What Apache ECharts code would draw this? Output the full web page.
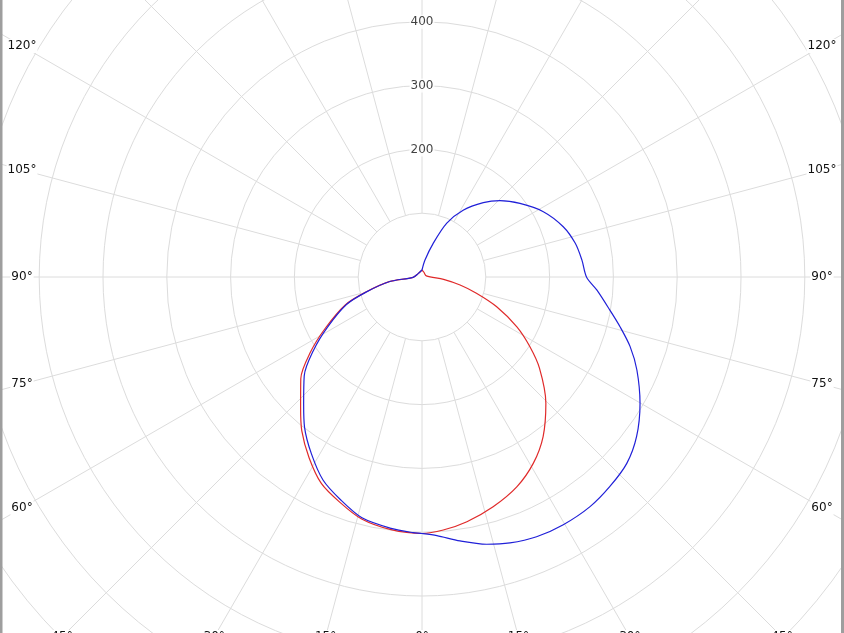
<!DOCTYPE html>
<html>
<head>
<meta charset="utf-8">
<script src="https://cdn.jsdelivr.net/npm/echarts/dist/echarts.min.js"></script>
<style>
html,body{margin:0;padding:0;background:#fff;}
#c{width:844px;height:633px;}
</style>
</head>
<body>
<div id="c"></div>
<script>
// ---- data (gamma in degrees from nadir, intensity values) ----
const blueRightGamma  = [0, 3.3, 8.2, 13.6, 18.3, 23.8, 29.7, 36.2, 41.9, 47.7, 53.4, 59.9, 66.6, 71.5, 75.9, 80.0, 85.7, 89.9, 96.1, 102.4, 109.6, 118.3, 126.9, 134.4, 140.5, 148.4, 155.3, 161.5, 170, 176, 180];
const blueRightValues = [402, 406, 418, 431, 439, 445, 447, 446, 441, 434, 419, 395, 367, 344, 320, 299, 275, 258, 252, 246, 235, 216, 192, 171, 151, 123, 93, 56, 27, 11, 11];
const blueLeftGamma   = [0, 2, 7, 14, 20, 26, 32, 38, 43, 50, 56, 62, 70, 75, 82, 88, 135, 180];
const blueLeftValues  = [402, 401, 397, 389, 372, 354, 327, 299, 272, 241, 205, 168, 126, 90, 51, 14, 8, 11];

const redRightGamma   = [0, 4.8, 10.4, 17.2, 24.3, 30.9, 37.2, 44.5, 52.2, 57.2, 62.3, 68.3, 73.4, 78.1, 83.8, 104, 158, 176, 180];
const redRightValues  = [402, 398, 390, 377, 361, 340, 314, 277, 233, 201, 168, 126, 89, 61, 34, 7, 8, 11, 11];
const redLeftGamma    = [0, 7, 14, 20, 26, 32, 38, 43, 50, 56, 62, 70, 75, 82, 88, 135, 180];
const redLeftValues   = [402, 399, 391, 376, 360, 334, 306, 279, 248, 211, 172, 128, 91, 52, 14, 8, 11];

const radiusTickLabels  = [200, 300, 400];
const sideAngleLabels   = [60, 75, 90, 105, 120];
const bottomAngleLabels = [-45, -30, -15, 0, 15, 30, 45];

// ---- layout ----
const CX = 422, CY = 277;
const PX_PER_UNIT = 0.638;
const R_MAX_VALUE = 900;
const R_OUT = R_MAX_VALUE * PX_PER_UNIT;
const R_IN = 100 * PX_PER_UNIT;
const FONT = 'DejaVu Sans';
const TEXT_COLOR = '#111';

function buildPath(rg, rv, lg, lv) {
  const pts = [];
  for (let i = rg.length - 1; i >= 0; i--) pts.push([rv[i], rg[i]]);
  for (let i = 0; i < lg.length; i++) pts.push([lv[i], 360 - lg[i]]);
  return pts;
}

const labelStyle = {
  fontSize: 12, fontFamily: FONT, fill: TEXT_COLOR,
  align: 'center', verticalAlign: 'middle',
  textAlign: 'center', textVerticalAlign: 'middle',
  backgroundColor: '#fff', padding: [1, 1]
};

const graphics = [];
sideAngleLabels.forEach(g => {
  const rad = g * Math.PI / 180;
  const dx = 400;
  const y = CY + dx * Math.cos(rad) / Math.sin(rad);
  [CX - dx, CX + dx].forEach(x => {
    graphics.push({type: 'text', x: x, y: y, z: 100, style: Object.assign({text: g + '°'}, labelStyle)});
  });
});
bottomAngleLabels.forEach(g => {
  const rad = g * Math.PI / 180;
  const dy = 360;
  const x = CX + dy * Math.tan(rad);
  graphics.push({type: 'text', x: x, y: CY + dy, z: 100, style: Object.assign({text: Math.abs(g) + '°'}, labelStyle)});
});
graphics.push({type: 'rect', z: 200, shape: {x: 0, y: 0, width: 2.5, height: 633}, style: {fill: '#9e9e9e'}});
graphics.push({type: 'rect', z: 200, shape: {x: 841, y: 0, width: 3, height: 633}, style: {fill: '#9e9e9e'}});

const gridColor = '#dcdcdc';

const option = {
  animation: false,
  backgroundColor: '#fff',
  polar: [
    {center: [CX, CY], radius: [R_IN, R_OUT]},
    {center: [CX, CY], radius: [0, R_OUT]}
  ],
  angleAxis: [
    {polarIndex: 0, type: 'value', min: 0, max: 360, interval: 15, startAngle: 90,
     axisLine: {show: false}, axisTick: {show: false}, axisLabel: {show: false},
     splitLine: {show: true, lineStyle: {color: gridColor, width: 1}}},
    {polarIndex: 1, type: 'value', min: 0, max: 360, startAngle: 270, clockwise: false, show: false,
     axisLine: {show: false}, axisTick: {show: false}, axisLabel: {show: false}, splitLine: {show: false}}
  ],
  radiusAxis: [
    {polarIndex: 0, type: 'value', min: 100, max: R_MAX_VALUE, interval: 100,
     axisLine: {show: false}, axisTick: {show: false}, axisLabel: {show: false},
     splitLine: {show: true, lineStyle: {color: gridColor, width: 1}}},
    {polarIndex: 1, type: 'value', min: 0, max: R_MAX_VALUE, show: false,
     axisLine: {show: false}, axisTick: {show: false}, axisLabel: {show: false}, splitLine: {show: false}}
  ],
  graphic: graphics,
  series: [
    {
      type: 'scatter', coordinateSystem: 'polar', polarIndex: 0, silent: true, z: 5,
      data: radiusTickLabels.map(v => [v, 0]),
      symbolSize: 1, itemStyle: {color: 'rgba(0,0,0,0)'},
      label: {show: true, position: 'inside', formatter: p => String(p.value[0]),
              fontSize: 12, fontFamily: FONT, color: TEXT_COLOR, backgroundColor: '#fff', padding: [1, 1]}
    },
    {
      name: 'red', type: 'line', coordinateSystem: 'polar', polarIndex: 1, z: 3,
      data: buildPath(redRightGamma, redRightValues, redLeftGamma, redLeftValues),
      showSymbol: false, symbol: 'none', clip: false, smooth: 0.3,
      lineStyle: {color: '#e02a2a', width: 1.2}
    },
    {
      name: 'blue', type: 'line', coordinateSystem: 'polar', polarIndex: 1, z: 4,
      data: buildPath(blueRightGamma, blueRightValues, blueLeftGamma, blueLeftValues),
      showSymbol: false, symbol: 'none', clip: false, smooth: 0.3,
      lineStyle: {color: '#2020d8', width: 1.2}
    }
  ]
};

const chart = echarts.init(document.getElementById('c'), null, {renderer: 'canvas'});
chart.setOption(option);
</script>
</body>
</html>
